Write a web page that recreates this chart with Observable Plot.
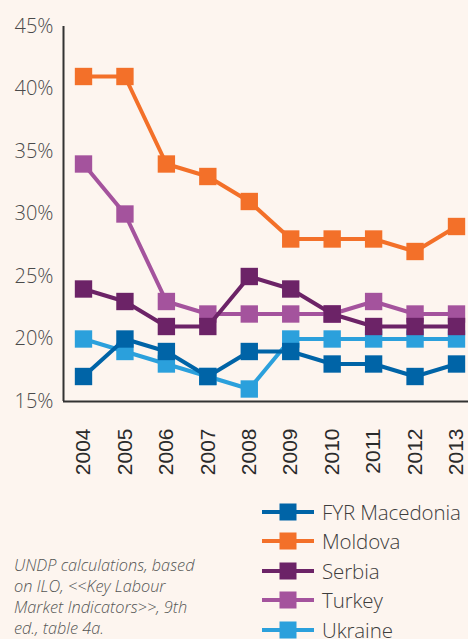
<!DOCTYPE html>
<html>
<head>
<meta charset="utf-8">
<script src="https://cdn.jsdelivr.net/npm/d3@7"></script>
<script src="https://cdn.jsdelivr.net/npm/@observablehq/plot@0.6"></script>
<style>
  html, body { margin: 0; padding: 0; background: #fdf5ef; }
  body { width: 468px; height: 639px; position: relative; overflow: hidden; font-family: "Open Sans", sans-serif; }
  #chart svg { display: block; background: #fdf5ef; }
  #legend { position: absolute; left: 262px; top: 497px; }
  .item { height: 29.5px; display: flex; align-items: center; font-size: 20.5px; color: #3d3d3d; font-weight: 300; white-space: nowrap; letter-spacing: -0.1px; }
  .item svg { margin-right: 8px; display: block; }
  #caption { position: absolute; left: 14px; top: 555px; font-size: 16.3px; font-style: italic; font-weight: 300; color: #555; line-height: 21px; width: 220px; white-space: nowrap; }
</style>
</head>
<body>
<div id="chart"></div>
<div id="caption">UNDP calculations, based<br>on ILO, &lt;&lt;Key Labour<br>Market Indicators&gt;&gt;, 9th<br>ed., table 4a.</div>
<div id="legend"></div>
<script>
const years = [2004, 2005, 2006, 2007, 2008, 2009, 2010, 2011, 2012, 2013];
const macedonia = [17, 20, 19, 17, 19, 19, 18, 18, 17, 18];
const moldova   = [41, 41, 34, 33, 31, 28, 28, 28, 27, 29];
const serbia    = [24, 23, 21, 21, 25, 24, 22, 21, 21, 21];
const turkey    = [34, 30, 23, 22, 22, 22, 22, 23, 22, 22];
const ukraine   = [20, 19, 18, 17, 16, 20, 20, 20, 20, 20];
const seriesNames = ["FYR Macedonia", "Moldova", "Serbia", "Turkey", "Ukraine"];
const seriesValues = [macedonia, moldova, serbia, turkey, ukraine];
const seriesColors = ["#0064a7", "#f37029", "#6c2367", "#a4539d", "#2ba0dc"];
const drawOrder = ["Ukraine", "Turkey", "Moldova", "FYR Macedonia", "Serbia"];
const yTicks = [15, 20, 25, 30, 35, 40, 45];

const rows = [];
seriesNames.forEach((name, i) => {
  years.forEach((yr, j) => rows.push({series: name, year: yr, value: seriesValues[i][j]}));
});

const marks = [
  Plot.ruleY([15], {stroke: "#333", strokeWidth: 2}),
  Plot.ruleX([2004], {dx: -20, stroke: "#333", strokeWidth: 2}),
  Plot.axisY({ticks: yTicks, tickSize: 0, tickPadding: 10, tickFormat: d => d + "%", label: null,
    fontSize: 20, fontFamily: "Open Sans", fontWeight: 300, fill: "#4a4a4a"}),
  Plot.axisX({ticks: years, tickFormat: "d", tickRotate: -90, tickSize: 0, tickPadding: 27, label: null,
    fontSize: 21, fontFamily: "Liberation Sans", fill: "#2b2b2b"})
];
for (const name of drawOrder) {
  const d = rows.filter(r => r.series === name);
  marks.push(Plot.line(d, {x: "year", y: "value", stroke: "series", strokeWidth: 4}));
  marks.push(Plot.dot(d, {x: "year", y: "value", fill: "series", symbol: "square", r: 9.8, stroke: "none"}));
}

const chart = Plot.plot({
  width: 468,
  height: 480,
  marginLeft: 63,
  marginRight: 0,
  marginTop: 26,
  marginBottom: 79,
  style: {background: "#fdf5ef", overflow: "visible"},
  x: {domain: [2004, 2013], insetLeft: 20, insetRight: 12, axis: null, label: null},
  y: {domain: [15, 45], axis: null, label: null},
  color: {domain: seriesNames, range: seriesColors},
  marks
});
document.getElementById("chart").append(chart);

const legend = document.getElementById("legend");
seriesNames.forEach((name, i) => {
  const item = document.createElement("div");
  item.className = "item";
  item.innerHTML = `<svg width="52" height="20"><line x1="0" x2="52" y1="10" y2="10" stroke="${seriesColors[i]}" stroke-width="4"/><rect x="17.5" y="1.5" width="17" height="17" fill="${seriesColors[i]}"/></svg><span>${name}</span>`;
  legend.append(item);
});
</script>
</body>
</html>
